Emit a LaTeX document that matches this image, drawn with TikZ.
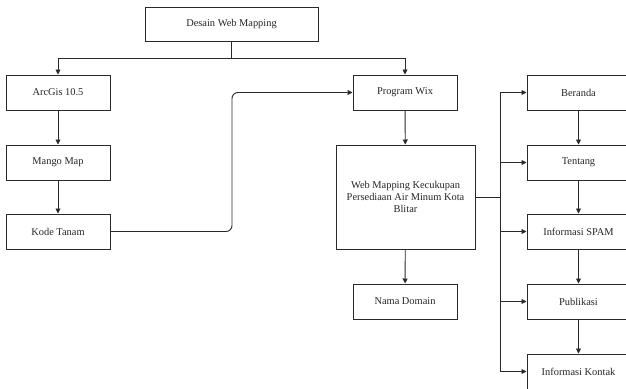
\documentclass[tikz,border=0pt]{standalone}
\usepackage{fontspec}
\setmainfont{Liberation Serif}
\usetikzlibrary{arrows.meta}
\definecolor{ln}{HTML}{2a2a2a}
\tikzset{
  box/.style={draw=ln, line width=1pt, fill=white, minimum width=104pt, minimum height=35pt, inner sep=1pt, align=center, font=\fontsize{10.4}{12.2}\selectfont, text=black!85},
  arr/.style={draw=ln, line width=0.9pt, -{Triangle[length=5pt,width=5pt]}},
  con/.style={draw=ln, line width=0.9pt}
}
\begin{document}
\begin{tikzpicture}[x=1pt,y=-1pt]
\useasboundingbox (0,0) rectangle (626,388);
\node[box, minimum width=173pt, minimum height=34pt] (desain) at (231.5,24) {Desain Web Mapping};
\node[box] (arcgis) at (58,92.5) {ArcGis 10.5};
\node[box] (mango) at (58,162.5) {Mango Map};
\node[box] (kode) at (58,231.5) {Kode Tanam};
\node[box] (wix) at (405,92.5) {Program Wix};
\node[box, minimum width=139pt, minimum height=104pt] (web) at (405.5,197) {Web Mapping Kecukupan\\Persediaan Air Minum Kota\\Blitar};
\node[box] (nama) at (405,301.5) {Nama Domain};
\node[box, minimum width=103pt] (beranda) at (578.5,92.5) {Beranda};
\node[box, minimum width=103pt] (tentang) at (578.5,162.5) {Tentang};
\node[box, minimum width=103pt] (spam) at (578.5,231.5) {Informasi SPAM};
\node[box, minimum width=103pt] (publikasi) at (578.5,301.5) {Publikasi};
\node[box, minimum width=103pt] (kontak) at (578.5,371.5) {Informasi Kontak};

\coordinate (j1) at (231.5,58);
\draw[con] (desain.south) -- (j1);
\draw[arr] (j1) -| (arcgis.north);
\draw[arr] (j1) -| (wix.north);
\draw[arr] (arcgis) -- (mango);
\draw[arr] (mango) -- (kode);

\coordinate (k1) at (232,231.5);
\coordinate (k2) at (232,92.5);
\draw[arr, rounded corners=6pt] (kode.east) -- (k1) -- (k2) -- (wix.west);

\draw[arr] (wix) -- (web);
\draw[arr] (web) -- (nama);

\coordinate (bus) at (500,197);
\draw[con] (web.east) -- (bus);
\draw[arr] (bus) |- (beranda.west);
\draw[arr] (bus) |- (tentang.west);
\draw[arr] (bus) |- (spam.west);
\draw[arr] (bus) |- (publikasi.west);
\draw[arr] (bus) |- (kontak.west);

\draw[arr] (beranda) -- (tentang);
\draw[arr] (tentang) -- (spam);
\draw[arr] (spam) -- (publikasi);
\draw[arr] (publikasi) -- (kontak);
\end{tikzpicture}
\end{document}
